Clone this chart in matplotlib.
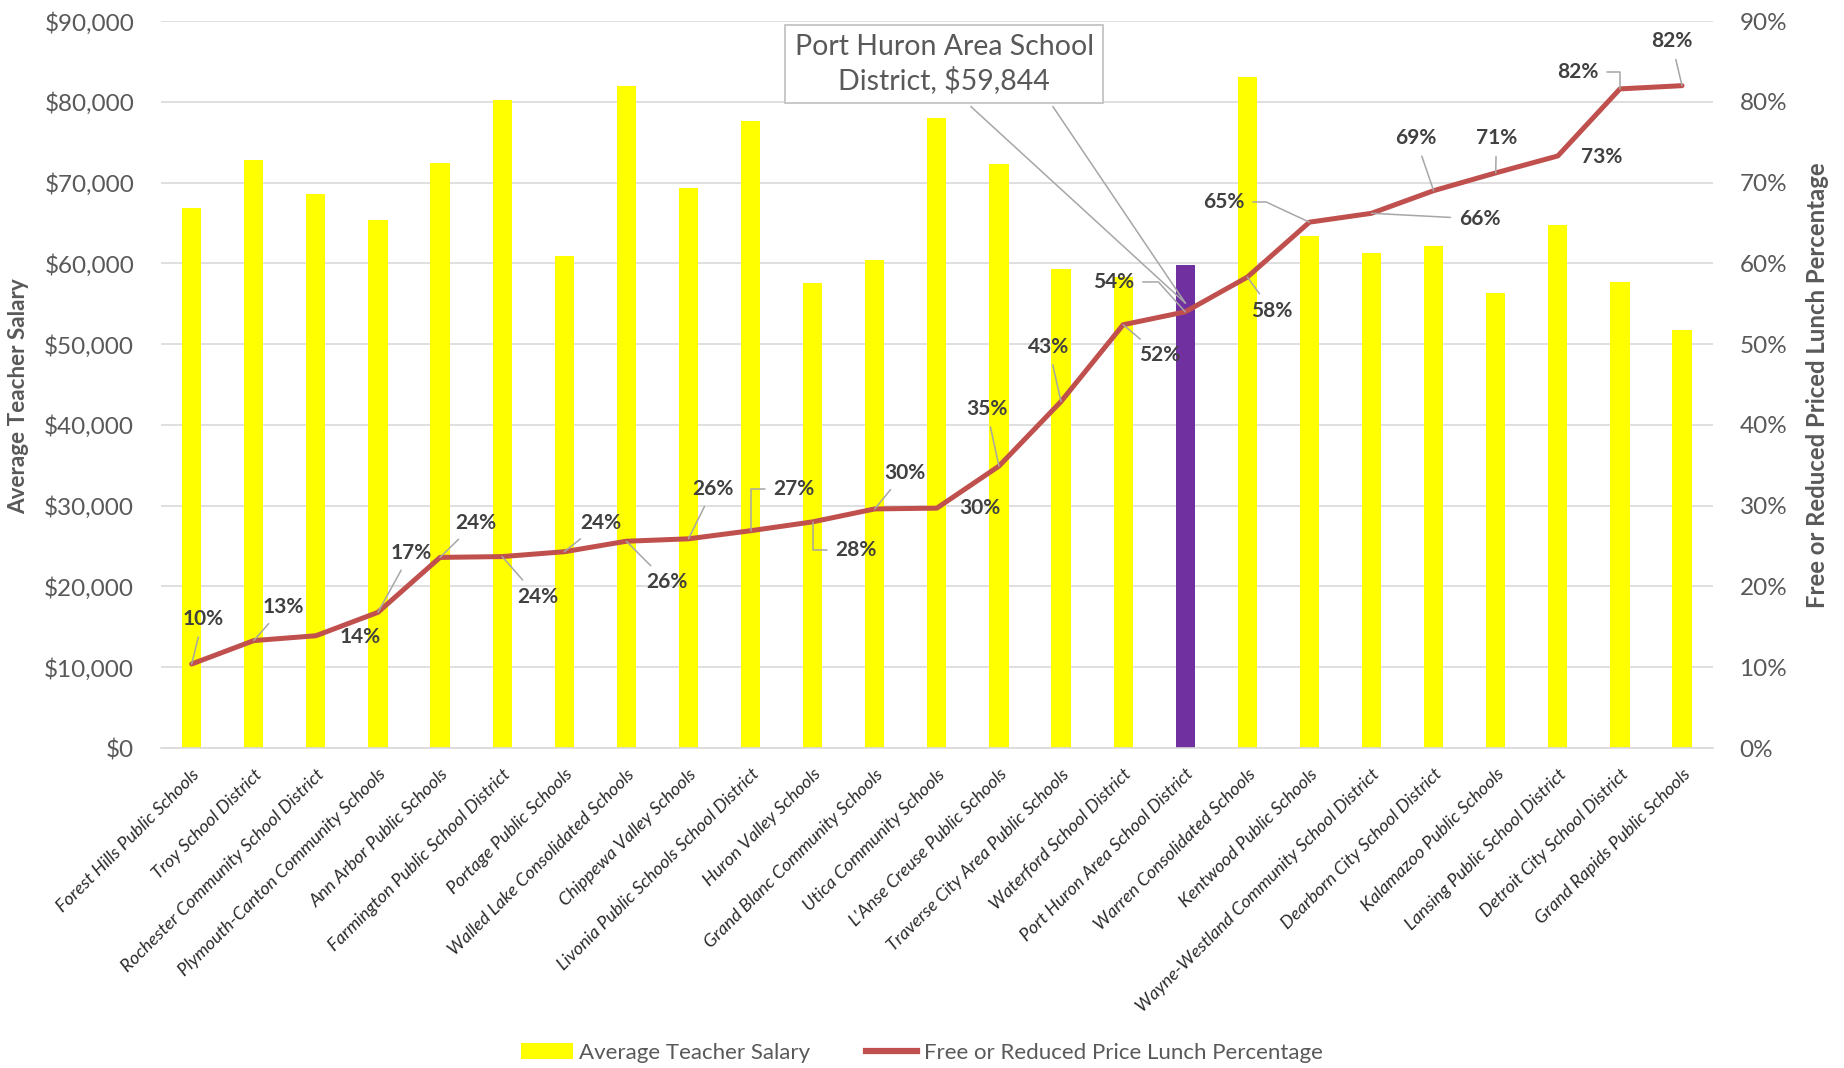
import matplotlib.pyplot as plt
from matplotlib.lines import Line2D
from matplotlib.patches import Patch
from matplotlib.ticker import FuncFormatter, MultipleLocator

plt.rcParams['font.family'] = ['Lato', 'DejaVu Sans']

districts = [
    'Forest Hills Public Schools', 'Troy School District',
    'Rochester Community School District', 'Plymouth-Canton Community Schools',
    'Ann Arbor Public Schools', 'Farmington Public School District',
    'Portage Public Schools', 'Walled Lake Consolidated Schools',
    'Chippewa Valley Schools', 'Livonia Public Schools School District',
    'Huron Valley Schools', 'Grand Blanc Community Schools',
    'Utica Community Schools', "L'Anse Creuse Public Schools",
    'Traverse City Area Public Schools', 'Waterford School District',
    'Port Huron Area School District', 'Warren Consolidated Schools',
    'Kentwood Public Schools', 'Wayne-Westland Community School District',
    'Dearborn City School District', 'Kalamazoo Public Schools',
    'Lansing Public School District', 'Detroit City School District',
    'Grand Rapids Public Schools',
]
salary = [66900, 72770, 68600, 65370, 72480, 80210, 60950, 81900, 69380,
          77640, 57560, 60370, 78020, 72310, 59300, 58260, 59844, 83020,
          63350, 61320, 62190, 56360, 64790, 57730, 51780]
lunch_pct = [10.4, 13.3, 13.9, 16.8, 23.6, 23.7, 24.3, 25.6, 25.9, 26.9,
             28.0, 29.6, 29.7, 34.9, 42.9, 52.4, 54.0, 58.3, 65.1, 66.2,
             69.0, 71.2, 73.3, 81.6, 82.0]
highlight = 'Port Huron Area School District'

# where each percentage label sits (x offset from its category, y in %) and how its leader is drawn
label_layout = [
    (0.18, 16.0, 'line'), (0.48, 17.5, 'line'), (0.71, 13.8, None),
    (0.53, 24.2, 'line'), (0.57, 27.9, 'line'), (0.57, 18.7, 'line'),
    (0.59, 27.9, 'line'), (0.66, 20.5, 'line'), (0.40, 32.1, 'line'),
    (0.70, 32.1, 'elbow'), (0.70, 24.5, 'elbow'), (0.48, 34.1, 'line'),
    (0.70, 29.7, None), (-0.20, 42.0, 'line'), (-0.20, 49.7, 'line'),
    (0.59, 48.6, 'line'), (-1.15, 57.7, 'bend48'), (0.40, 54.1, 'line'),
    (-1.38, 67.6, 'bend25'), (1.74, 65.5, 'line'), (-0.29, 75.5, 'line'),
    (0.01, 75.5, 'line'), (0.71, 73.2, None), (-0.68, 83.7, 'elbow'),
    (-0.17, 87.5, 'line'),
]
connectors = {
    'line': 'arc3,rad=0',
    'elbow': 'angle,angleA=0,angleB=90,rad=0',
    'bend48': 'angle,angleA=0,angleB=132,rad=0',
    'bend25': 'angle,angleA=0,angleB=155,rad=0',
}

GREY = '#595959'
x = list(range(len(districts)))
hi = districts.index(highlight)

fig = plt.figure(figsize=(18.44, 10.68), dpi=100)
fig.patch.set_facecolor('white')
ax = fig.add_axes([0.0871, 0.2996, 0.8419, 0.6807])
ax2 = ax.twinx()

colors = ['#7030A0' if d == highlight else '#FFFF00' for d in districts]
ax.bar(x, salary, width=0.31, color=colors, zorder=2)
ax2.plot(x, lunch_pct, color='#C0504D', lw=3.6, solid_joinstyle='round',
         solid_capstyle='round', zorder=3)

ax.set_xlim(-0.5, len(districts) - 0.5)
ax.set_ylim(0, 90000)
ax2.set_ylim(0, 90)
ax.yaxis.set_major_locator(MultipleLocator(10000))
ax2.yaxis.set_major_locator(MultipleLocator(10))
ax.yaxis.set_major_formatter(FuncFormatter(lambda v, p: f'\\${v:,.0f}'))
ax2.yaxis.set_major_formatter(FuncFormatter(lambda v, p: f'{v:.0f}%'))

ax.set_axisbelow(True)
ax.grid(axis='y', color='#D9D9D9', lw=1.2)
for a in (ax, ax2):
    for s in a.spines.values():
        s.set_visible(False)
ax.spines['bottom'].set_visible(True)
ax.spines['bottom'].set_color('#D9D9D9')
ax.spines['bottom'].set_linewidth(1.2)

ax.tick_params(axis='y', length=0, pad=19, labelsize=17.5, labelcolor=GREY)
ax2.tick_params(axis='y', length=0, pad=19, labelsize=17.5, labelcolor=GREY)
ax.set_xticks(x)
ax.set_xticklabels(districts, rotation=45, ha='right', va='top',
                   rotation_mode='anchor', fontstyle='italic', fontsize=13,
                   color='#2b2b2b')
ax.tick_params(axis='x', length=0, pad=13)

fig.text(19 / 1844, 1 - 396 / 1068, 'Average Teacher Salary', rotation=90,
         ha='center', va='center', fontsize=16.2, fontweight='bold', color=GREY)
fig.text(1817 / 1844, 1 - 385 / 1068, 'Free or Reduced Priced Lunch Percentage',
         rotation=90, ha='center', va='center', fontsize=17.2,
         fontweight='bold', color=GREY)

# percentage data labels with leader lines
for i, (p, (dx, ly, conn)) in enumerate(zip(lunch_pct, label_layout)):
    props = None
    if conn is not None:
        props = dict(arrowstyle='-', color='#A6A6A6', lw=1.1, shrinkA=4,
                     shrinkB=0, connectionstyle=connectors[conn])
    ax2.annotate(f'{round(p)}%', xy=(i, p), xytext=(i + dx, ly),
                 ha='center', va='center', fontsize=15, fontweight='bold',
                 color='#404040', arrowprops=props, zorder=5)

# callout for the highlighted district
ax2.text(12.12, 84.7, f'Port Huron Area School\nDistrict, \\${salary[hi]:,}',
         ha='center', va='center', fontsize=20.5, color=GREY, linespacing=1.25,
         zorder=6,
         bbox=dict(boxstyle='square,pad=0.33', fc='white', ec='#BFBFBF', lw=1.2))
for sx in (12.55, 13.87):
    ax2.plot([sx, hi], [79.4, lunch_pct[hi] + 1.1], color='#A6A6A6', lw=1.1,
             zorder=4)

handles = [Patch(facecolor='#FFFF00', edgecolor='none'),
           Line2D([0], [0], color='#C0504D', lw=4.5)]
fig.legend(handles, ['Average Teacher Salary',
                     'Free or Reduced Price Lunch Percentage'],
           loc='center', bbox_to_anchor=(0.5, 0.014), ncol=2, frameon=False,
           fontsize=16, labelcolor=GREY, handlelength=2.3, handletextpad=0.3,
           columnspacing=2.5)

fig.savefig('out.png', dpi=100, facecolor='white')
